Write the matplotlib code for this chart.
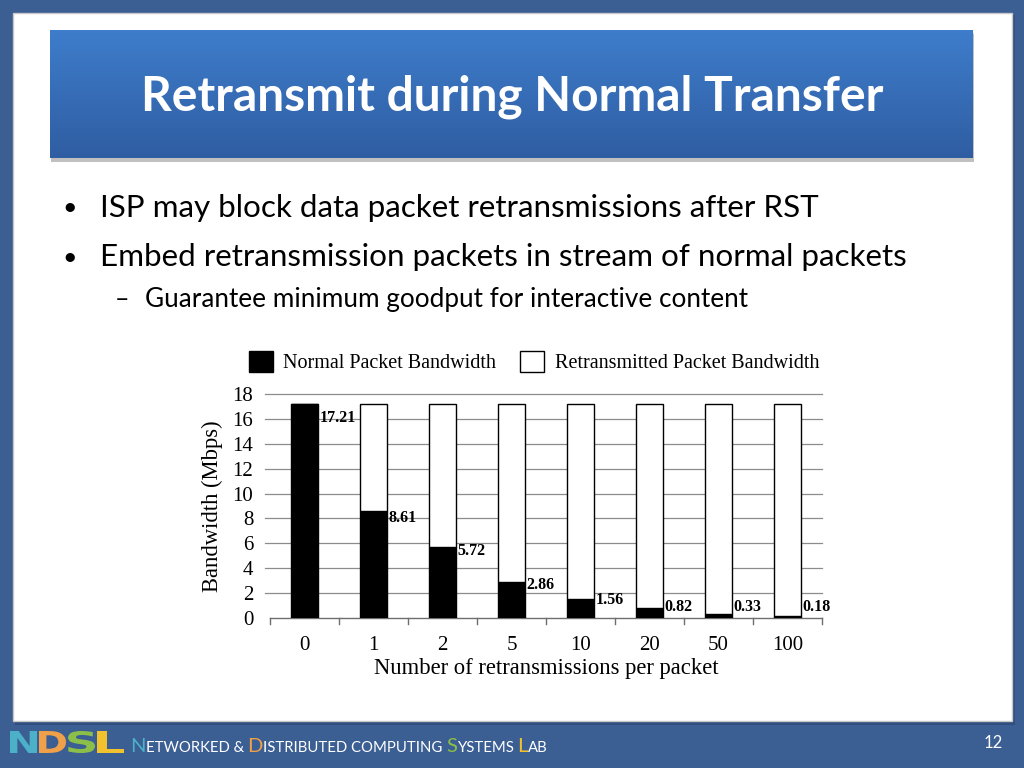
import matplotlib
matplotlib.use("Agg")
import matplotlib.pyplot as plt
import numpy as np
from matplotlib.patches import Rectangle, PathPatch
from matplotlib.textpath import TextPath
from matplotlib.font_manager import FontProperties
from matplotlib.transforms import Affine2D

# ---------------- data ----------------
categories = ["0", "1", "2", "5", "10", "20", "50", "100"]
normal_bw = [17.21, 8.61, 5.72, 2.86, 1.56, 0.82, 0.33, 0.18]
total_bw = [17.21, 17.21, 17.21, 17.21, 17.21, 17.21, 17.21, 17.21]
label_text = ["17.21", "8.61", "5.72", "2.86", "1.56", "0.82", "0.33", "0.18"]
y_ticks = [0, 2, 4, 6, 8, 10, 12, 14, 16, 18]
title = "Retransmit during Normal Transfer"
bullets = ["ISP may block data packet retransmissions after RST",
           "Embed retransmission packets in stream of normal packets"]
sub_bullet = "Guarantee minimum goodput for interactive content"

W, H = 1024, 768
fig = plt.figure(figsize=(W / 100, H / 100), dpi=100)
fig.patch.set_facecolor("#3b5e93")

def fx(x):
    return x / W

def fy(y):
    return 1 - y / H

# background overlay axes
bg = fig.add_axes([0, 0, 1, 1])
bg.set_xlim(0, W)
bg.set_ylim(H, 0)
bg.axis("off")

# white panel with shadow
bg.add_patch(Rectangle((15, 15), 1000, 710, facecolor="#2a4470", edgecolor="none", alpha=0.6))
bg.add_patch(Rectangle((13, 13), 999, 708, facecolor="white", edgecolor="#c8c8c8", lw=1))

# title box shadow and gradient
for k, a in enumerate([0.10, 0.15, 0.25]):
    bg.add_patch(Rectangle((50 + 1, 30 + 2 + k), 923, 130 - k, facecolor="#707070",
                           edgecolor="none", alpha=a))
grad = np.linspace(0, 1, 256).reshape(-1, 1)
top_c = np.array([0x3e, 0x7d, 0xcb]) / 255
bot_c = np.array([0x2f, 0x5d, 0xa2]) / 255
img = top_c[None, None, :] * (1 - grad[..., None]) + bot_c[None, None, :] * grad[..., None]
bg.imshow(img, extent=(50, 973, 158, 30), aspect="auto", zorder=2)

fig.text(fx(512), fy(97), title, color="white", fontsize=34.5, fontweight="bold",
         family="Lato", ha="center", va="center")

# bullets
for i, b in enumerate(bullets):
    yy = 208 + i * 49
    fig.text(fx(62), fy(yy), "\u2022", fontsize=18, family="Lato", ha="left", va="center", color="black")
    fig.text(fx(100), fy(yy), b, fontsize=22.6, family="Lato", ha="left", va="center", color="black")
fig.text(fx(115), fy(300), "\u2013", fontsize=18, family="Lato", ha="left", va="center")
fig.text(fx(145), fy(300), sub_bullet, fontsize=18.8, family="Lato", ha="left", va="center")

# ---------------- chart ----------------
serif = "Liberation Serif"
ax = fig.add_axes([fx(270), fy(618), (822 - 270) / W, (618 - 394) / H])
x = np.arange(len(categories))
bw = 0.4
retrans = [t - n for t, n in zip(total_bw, normal_bw)]
ax.bar(x, normal_bw, width=bw, color="black", edgecolor="black", lw=1, zorder=3,
       label="Normal Packet Bandwidth")
ax.bar(x, retrans, bottom=normal_bw, width=bw, color="white", edgecolor="black", lw=1,
       zorder=3, label="Retransmitted Packet Bandwidth")
for xi, v, t in zip(x, normal_bw, label_text):
    ax.text(xi + bw / 2 + 0.02, max(v * 0.935, 0.9), t, fontsize=11.5, fontweight="bold",
            family=serif, ha="left", va="center", zorder=4)

ax.set_xlim(-0.5, len(categories) - 0.5)
ax.set_ylim(0, 18)
ax.set_yticks(y_ticks)
ax.set_yticklabels([str(v) for v in y_ticks], family=serif, fontsize=15)
for yt in y_ticks[1:]:
    ax.plot([-0.57, len(categories) - 0.5], [yt, yt], color="#8c8c8c", lw=0.9,
            clip_on=False, zorder=1)
ax.set_xticks(x)
ax.set_xticklabels(categories, family=serif, fontsize=15)
ax.tick_params(axis="x", length=0, pad=13)
ax.tick_params(axis="y", length=0, pad=12)
for s in ["top", "right", "left"]:
    ax.spines[s].set_visible(False)
ax.spines["bottom"].set_color("#6e6e6e")
ax.spines["bottom"].set_linewidth(1)
for b in np.arange(-0.5, len(categories), 1.0):
    ax.plot([b, b], [0, -0.5], color="#6e6e6e", lw=1, clip_on=False)
ax.set_ylabel("Bandwidth (Mbps)", family=serif, fontsize=16.3, labelpad=7)
ax.set_xlabel("Number of retransmissions per packet", family=serif, fontsize=16.3, labelpad=2)
ax.patch.set_alpha(0)

leg = fig.legend(*ax.get_legend_handles_labels(), loc="center", bbox_to_anchor=(fx(534), fy(362)),
                 ncol=2, frameon=False, prop={"family": serif, "size": 14.5},
                 handlelength=1.2, handleheight=1.2, columnspacing=1.2, handletextpad=0.5)

# ---------------- footer ----------------
logo_cols = ["#4bb0c8", "#f0a048", "#8cbf4a", "#f2c12e"]
fp = FontProperties(family="DejaVu Sans", weight="heavy")
xp = 10
for ch, c in zip("NDSL", logo_cols):
    tp = TextPath((0, 0), ch, size=10, prop=fp)
    ext = tp.get_extents()
    sx = 27 / ext.width
    sy = 22 / ext.height
    tr = Affine2D().translate(-ext.x0, -ext.y0).scale(sx, -sy).translate(xp, 753)
    bg.add_patch(PathPatch(tr.transform_path(tp), facecolor=c, edgecolor="none", zorder=5))
    xp += 29

pieces = [("N", "#4bb0c8", 14.5), ("ETWORKED & ", "white", 10.7), ("D", "#f0a048", 14.5),
          ("ISTRIBUTED COMPUTING ", "white", 10.7), ("S", "#8cbf4a", 14.5),
          ("YSTEMS ", "white", 10.7), ("L", "#f2c12e", 14.5), ("AB", "white", 10.7)]
renderer = fig.canvas.get_renderer()
xp = 130
for s, c, fs in pieces:
    t = fig.text(fx(xp), fy(752), s, color=c, fontsize=fs, family="Lato",
                 ha="left", va="baseline")
    xp = t.get_window_extent(renderer).x1

fig.text(fx(993), fy(743), "12", color="white", fontsize=12, family="Lato",
         ha="center", va="center")

fig.savefig("out.png", dpi=100, facecolor=fig.get_facecolor())
